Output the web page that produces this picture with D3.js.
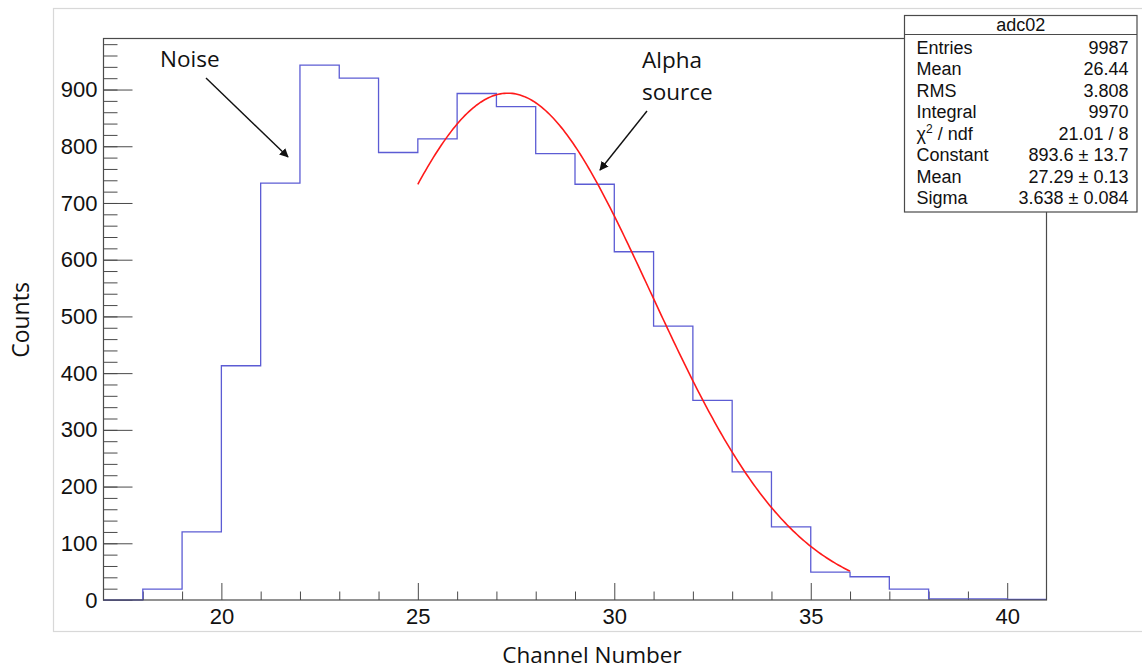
<!DOCTYPE html>
<html>
<head>
<meta charset="utf-8">
<script src="https://cdn.jsdelivr.net/npm/d3@7/dist/d3.min.js"></script>
<style>
  html, body { margin: 0; padding: 0; background: #fff; }
  svg { display: block; }
</style>
</head>
<body>
<svg id="chart" width="1142" height="670"></svg>
<script>
// Histogram of ADC channel counts, one bin per channel from 17 to 41
const binEdges = [17,18,19,20,21,22,23,24,25,26,27,28,29,30,31,32,33,34,35,36,37,38,39,40,41];
const binCounts = [0,19,120,413,735,943,920,789,813,893,870,787,733,614,483,352,226,129,49,41,19,2,2,1];

// Gaussian fit parameters and fit range
const fitConstant = 893.6;
const fitMean = 27.29;
const fitSigma = 3.638;
const fitRange = [25, 36];

// Axis ticks
const xMajorTicks = [20, 25, 30, 35, 40];
const xMinorTicks = [18,19,21,22,23,24,26,27,28,29,31,32,33,34,36,37,38,39];
const yMajorTicks = [0,100,200,300,400,500,600,700,800,900];
const yMinorTicks = d3.range(0, 1000, 20);

// Statistics box rows: [label, value]
const statsTitle = "adc02";
const statsRows = [
  ["Entries", "9987"],
  ["Mean", "26.44"],
  ["RMS", "3.808"],
  ["Integral", "9970"],
  ["chi2", "21.01 / 8"],
  ["Constant", "893.6 \u00b1 13.7"],
  ["Mean", "27.29 \u00b1 0.13"],
  ["Sigma", "3.638 \u00b1 0.084"]
];

const svg = d3.select("#chart");
const frame = { left: 103.5, right: 1046.5, top: 38.5, bottom: 600 };

const x = d3.scaleLinear().domain([17, 41]).range([frame.left, frame.right]);
const y = d3.scaleLinear().domain([0, 990]).range([frame.bottom, frame.top]);

const axisColor = "#4a4a4a";
const tickFont = "'Liberation Sans', Arial, sans-serif";
const labelFont = "'Open Sans', 'Noto Sans', sans-serif";

// Outer canvas border
svg.append("rect")
  .attr("x", 53.5).attr("y", 8.5)
  .attr("width", 1100).attr("height", 623)
  .attr("fill", "none").attr("stroke", "#d8d8d8").attr("stroke-width", 1.2);

// Minor ticks
svg.append("g")
  .attr("transform", `translate(${frame.left},0)`)
  .call(d3.axisLeft(y).tickValues(yMinorTicks).tickSize(-14).tickFormat(""))
  .call(g => g.select(".domain").remove())
  .call(g => g.selectAll("line").attr("stroke", axisColor));

svg.append("g")
  .attr("transform", `translate(0,${frame.bottom})`)
  .call(d3.axisBottom(x).tickValues(xMinorTicks).tickSize(-8.5).tickFormat(""))
  .call(g => g.select(".domain").remove())
  .call(g => g.selectAll("line").attr("stroke", axisColor));

// Major ticks with labels
svg.append("g")
  .attr("transform", `translate(${frame.left},0)`)
  .call(d3.axisLeft(y).tickValues(yMajorTicks).tickSize(-29).tickPadding(6).tickFormat(d3.format("d")))
  .call(g => g.select(".domain").remove())
  .call(g => g.selectAll("line").attr("stroke", axisColor))
  .call(g => g.selectAll("text")
    .attr("fill", "#111").style("font-family", tickFont).style("font-size", "22px"));

svg.append("g")
  .attr("transform", `translate(0,${frame.bottom})`)
  .call(d3.axisBottom(x).tickValues(xMajorTicks).tickSize(-17).tickPadding(8).tickFormat(d3.format("d")))
  .call(g => g.select(".domain").remove())
  .call(g => g.selectAll("line").attr("stroke", axisColor))
  .call(g => g.selectAll("text")
    .attr("fill", "#111").style("font-family", tickFont).style("font-size", "22px"));

// Histogram outline
const stepPoints = binCounts.map((c, i) => [binEdges[i], c]);
stepPoints.push([binEdges[binEdges.length - 1], binCounts[binCounts.length - 1]]);
const stepLine = d3.line()
  .x(d => x(d[0]))
  .y(d => y(d[1]))
  .curve(d3.curveStepAfter);
svg.append("path")
  .datum(stepPoints)
  .attr("d", stepLine)
  .attr("fill", "none")
  .attr("stroke", "#5c5cd4")
  .attr("stroke-width", 1.3);

// Gaussian fit curve
const gauss = v => fitConstant * Math.exp(-0.5 * Math.pow((v - fitMean) / fitSigma, 2));
const fitPoints = d3.range(fitRange[0], fitRange[1] + 1e-9, 0.05).map(v => [v, gauss(v)]);
svg.append("path")
  .datum(fitPoints)
  .attr("d", d3.line().x(d => x(d[0])).y(d => y(d[1])))
  .attr("fill", "none")
  .attr("stroke", "#ff1a1a")
  .attr("stroke-width", 1.6);

// Plot frame
svg.append("rect")
  .attr("x", frame.left).attr("y", frame.top)
  .attr("width", frame.right - frame.left).attr("height", frame.bottom - frame.top)
  .attr("fill", "none").attr("stroke", axisColor).attr("stroke-width", 1.2);

// Axis titles
svg.append("text")
  .attr("transform", "translate(29,320) rotate(-90)")
  .attr("text-anchor", "middle")
  .style("font-family", labelFont).style("font-size", "23px").attr("fill", "#111")
  .text("Counts");

svg.append("text")
  .attr("x", 592).attr("y", 663)
  .attr("text-anchor", "middle")
  .style("font-family", labelFont).style("font-size", "22.5px").attr("fill", "#111")
  .text("Channel Number");

// Annotations with arrows
const defs = svg.append("defs");
defs.append("marker")
  .attr("id", "arrowhead")
  .attr("viewBox", "0 0 10 10")
  .attr("refX", 9).attr("refY", 5)
  .attr("markerWidth", 9).attr("markerHeight", 9)
  .attr("markerUnits", "userSpaceOnUse")
  .attr("orient", "auto")
  .append("path")
  .attr("d", "M0,0 L10,5 L0,10 z")
  .attr("fill", "#111");

svg.append("text")
  .attr("x", 160).attr("y", 67)
  .style("font-family", labelFont).style("font-size", "22.5px").attr("fill", "#111")
  .text("Noise");
svg.append("line")
  .attr("x1", 206).attr("y1", 78).attr("x2", 288).attr("y2", 157)
  .attr("stroke", "#111").attr("stroke-width", 1.4)
  .attr("marker-end", "url(#arrowhead)");

svg.append("text")
  .attr("x", 642).attr("y", 68)
  .style("font-family", labelFont).style("font-size", "22.5px").attr("fill", "#111")
  .text("Alpha");
svg.append("text")
  .attr("x", 642).attr("y", 100)
  .style("font-family", labelFont).style("font-size", "22.5px").attr("fill", "#111")
  .text("source");
svg.append("line")
  .attr("x1", 647).attr("y1", 111).attr("x2", 600).attr("y2", 170)
  .attr("stroke", "#111").attr("stroke-width", 1.4)
  .attr("marker-end", "url(#arrowhead)");

// Statistics box
const box = { x: 904.5, y: 15.5, w: 232.5, h: 196.5, titleH: 19 };
const statsFontSize = "18px";
const stats = svg.append("g");
stats.append("rect")
  .attr("x", box.x).attr("y", box.y).attr("width", box.w).attr("height", box.h)
  .attr("fill", "#fff").attr("stroke", axisColor).attr("stroke-width", 1.2);
stats.append("line")
  .attr("x1", box.x).attr("x2", box.x + box.w)
  .attr("y1", box.y + box.titleH).attr("y2", box.y + box.titleH)
  .attr("stroke", axisColor).attr("stroke-width", 1.2);
stats.append("text")
  .attr("x", box.x + box.w / 2).attr("y", box.y + 15.5)
  .attr("text-anchor", "middle")
  .style("font-family", tickFont).style("font-size", statsFontSize).attr("fill", "#111")
  .text(statsTitle);

statsRows.forEach(([label, value], i) => {
  const by = 53.5 + i * 21.5;
  const t = stats.append("text")
    .attr("x", 916.5).attr("y", by)
    .style("font-family", tickFont).style("font-size", statsFontSize).attr("fill", "#111");
  if (label === "chi2") {
    t.append("tspan").text("\u03c7");
    t.append("tspan").attr("dy", -7).style("font-size", "12px").text("2");
    t.append("tspan").attr("dy", 7).text(" / ndf");
  } else {
    t.text(label);
  }
  stats.append("text")
    .attr("x", 1128.5).attr("y", by)
    .attr("text-anchor", "end")
    .style("font-family", tickFont).style("font-size", statsFontSize).attr("fill", "#111")
    .text(value);
});
</script>
</body>
</html>
